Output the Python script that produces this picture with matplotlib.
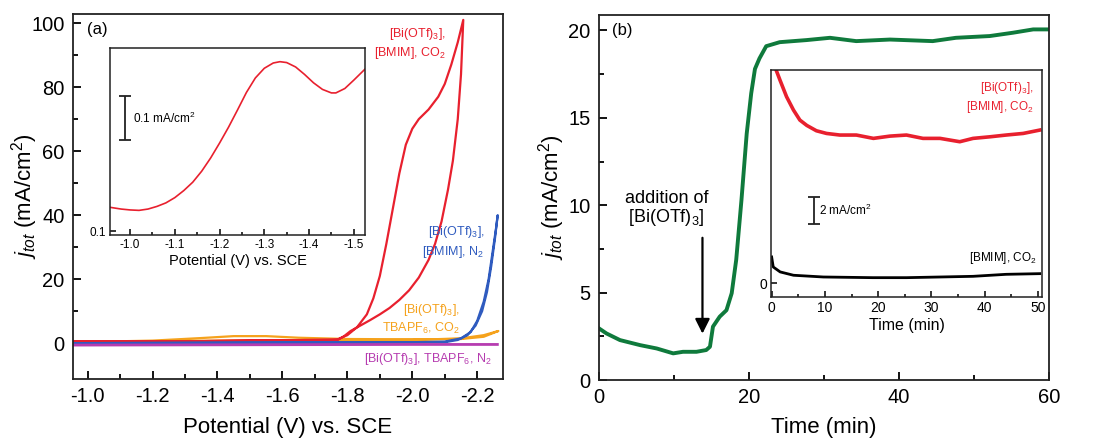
import matplotlib.pyplot as plt
import numpy as np
from matplotlib.ticker import FixedLocator

plt.rcParams['font.family'] = ['Liberation Sans', 'DejaVu Sans']
plt.rcParams['mathtext.fontset'] = 'custom'
plt.rcParams['mathtext.rm'] = 'Liberation Sans'
plt.rcParams['mathtext.it'] = 'Liberation Sans:italic'
plt.rcParams['mathtext.bf'] = 'Liberation Sans:bold'

# ---- panel (a): cyclic voltammograms ----
# red: [Bi(OTf)3], [BMIM], CO2  (forward then reverse scan)
red_v = [-0.955, -1.2, -1.5, -1.7, -1.77, -1.79, -1.81, -1.84, -1.87, -1.90, -1.93,
         -1.96, -1.99, -2.02, -2.05, -2.07, -2.09, -2.11, -2.125, -2.14, -2.15, -2.157,
         -2.14, -2.12, -2.10, -2.08, -2.05, -2.02, -2.00, -1.98, -1.96, -1.94, -1.92,
         -1.90, -1.88, -1.86, -1.83, -1.80, -1.77, -1.6, -1.3, -0.955]
red_j = [0.5, 0.5, 0.8, 0.8, 1.0, 2.2, 3.8, 5.5, 7.2, 9.0, 11.0,
         13.5, 16.5, 20.5, 26, 31, 38, 48, 57, 70, 84, 101,
         94, 87, 81, 77, 73, 70, 67, 62, 53, 42, 31,
         21, 14, 9, 5, 2.5, 1.2, 0.9, 0.6, 0.5]

# blue: [Bi(OTf)3], [BMIM], N2
blue_v = [-0.955, -1.5, -2.0, -2.1, -2.15, -2.18, -2.2, -2.22, -2.235, -2.248, -2.258, -2.263,
          -2.255, -2.243, -2.23, -2.215, -2.195, -2.17, -2.14, -2.1, -1.5, -0.955]
blue_j = [0.0, 0.3, 0.3, 0.5, 1.5, 3.5, 7, 13, 20, 29, 36, 40,
          33, 24, 16, 10, 5.5, 2.5, 1.0, 0.3, 0.0, -0.2]

# orange: [Bi(OTf)3], TBAPF6, CO2
orng_v = [-0.955, -1.2, -1.35, -1.45, -1.55, -1.65, -1.8, -2.0, -2.15, -2.22, -2.265,
          -2.22, -2.15, -2.0, -1.8, -1.5, -1.2, -0.955]
orng_j = [0.3, 0.8, 1.6, 2.2, 2.2, 1.7, 1.3, 1.2, 1.3, 2.0, 3.8,
          2.5, 1.5, 1.0, 0.9, 0.9, 0.6, 0.3]

# purple: [Bi(OTf)3], TBAPF6, N2
purp_v = [-0.955, -1.5, -2.0, -2.262]
purp_j = [-0.6, -0.5, -0.4, -0.4]

# inset (a)
insa_v = [-0.955, -0.98, -1.0, -1.02, -1.04, -1.06, -1.08, -1.10, -1.12, -1.14, -1.16,
          -1.18, -1.20, -1.22, -1.24, -1.26, -1.28, -1.30, -1.32, -1.335, -1.35, -1.37,
          -1.39, -1.41, -1.43, -1.45, -1.46, -1.48, -1.50, -1.525]
insa_j = [0.154, 0.150, 0.148, 0.147, 0.150, 0.156, 0.164, 0.176, 0.192, 0.211, 0.236,
          0.266, 0.300, 0.336, 0.375, 0.415, 0.448, 0.470, 0.482, 0.485, 0.483, 0.473,
          0.456, 0.437, 0.422, 0.414, 0.414, 0.424, 0.443, 0.468]

# ---- panel (b): chronoamperometry ----
grn_t = [0, 1.0, 2.8, 5.5, 7.7, 9.9, 11.2, 13.0, 14.3, 14.8, 15.2, 16.1, 17.0, 17.7,
         18.3, 19.0, 19.7, 20.3, 20.8, 21.4, 22.3, 24.1, 27.7, 30.8, 34.3, 38.8,
         44.5, 47.6, 52.1, 55.2, 57.9, 60]
grn_j = [2.96, 2.67, 2.29, 2.0, 1.81, 1.53, 1.62, 1.62, 1.72, 1.91, 3.06, 3.63, 4.0, 4.97,
         6.88, 10.3, 14.1, 16.4, 17.8, 18.4, 19.1, 19.33, 19.45, 19.58, 19.39, 19.48,
         19.39, 19.58, 19.68, 19.87, 20.06, 20.06]

# inset (b)
insb_red_t = [0.6, 1.56, 2.8, 4.1, 5.3, 6.6, 8.4, 10.3, 12.8, 15.9, 19.1, 22.2, 25.3,
              28.4, 31.6, 35.3, 37.8, 41, 44, 47.2, 50.3]
insb_red_j = [16.2, 15.2, 13.95, 12.95, 12.2, 11.8, 11.4, 11.2, 11.08, 11.08, 10.83,
              11.0, 11.08, 10.83, 10.83, 10.58, 10.83, 10.95, 11.08, 11.2, 11.45]
insb_blk_t = [0, 0.3, 1.6, 4.1, 9.7, 19, 25.3, 31.6, 37.8, 44, 50.3]
insb_blk_j = [1.95, 1.2, 0.83, 0.58, 0.45, 0.4, 0.4, 0.45, 0.5, 0.65, 0.7]

RED = '#e8202e'
BLUE = '#2f5bbf'
ORNG = '#f5a21c'
PURP = '#b63cb0'
GRN = '#0f7a3c'


def style(ax, size, maj, mnr, lw, pad):
    ax.tick_params(which='both', direction='in', top=False, right=False,
                   labelsize=size, width=lw, pad=pad)
    ax.tick_params(which='major', length=maj)
    ax.tick_params(which='minor', length=mnr)
    for s in ax.spines.values():
        s.set_linewidth(lw)
        s.set_color('#222222')


fig = plt.figure(figsize=(10.93, 4.42), dpi=100)
axa = fig.add_axes([0.0668, 0.1425, 0.393, 0.8255])
axb = fig.add_axes([0.548, 0.140, 0.4117, 0.8267])

# panel (a)
axa.plot(orng_v, orng_j, color=ORNG, lw=1.6)
axa.plot(red_v, red_j, color=RED, lw=1.6)
axa.plot(blue_v, blue_j, color=BLUE, lw=1.6)
axa.plot(purp_v, purp_j, color=PURP, lw=2.0)
axa.set_xlim(-0.955, -2.278)
axa.set_ylim(-11.2, 102.8)
axa.xaxis.set_major_locator(FixedLocator([-1.0, -1.2, -1.4, -1.6, -1.8, -2.0, -2.2]))
axa.xaxis.set_minor_locator(FixedLocator([-1.1, -1.3, -1.5, -1.7, -1.9, -2.1]))
axa.yaxis.set_major_locator(FixedLocator([0, 20, 40, 60, 80, 100]))
axa.yaxis.set_minor_locator(FixedLocator([10, 30, 50, 70, 90]))
axa.set_xticklabels(['-1.0', '-1.2', '-1.4', '-1.6', '-1.8', '-2.0', '-2.2'])
style(axa, 14.5, 6, 3.5, 1.3, 6)
axa.set_xlabel('Potential (V) vs. SCE', fontsize=16, labelpad=8)
axa.set_ylabel(r'$j_{tot}$ (mA/cm$^2$)', fontsize=16)
axa.yaxis.set_label_coords(-0.078, 0.5)
axa.text(-0.998, 98, '(a)', fontsize=12, ha='left', va='center')
axa.text(-2.104, 93.7, '[Bi(OTf)$_3$],\n[BMIM], CO$_2$', color=RED, fontsize=9,
         ha='right', va='center', multialignment='right', linespacing=1.3)
axa.text(-2.222, 31.6, '[Bi(OTf)$_3$],\n[BMIM], N$_2$', color=BLUE, fontsize=9,
         ha='right', va='center', multialignment='right', linespacing=1.3)
axa.text(-2.145, 7.6, '[Bi(OTf)$_3$],\nTBAPF$_6$, CO$_2$', color=ORNG, fontsize=9,
         ha='right', va='center', multialignment='right', linespacing=1.3)
axa.text(-2.245, -5.0, '[Bi(OTf)$_3$], TBAPF$_6$, N$_2$', color=PURP, fontsize=9,
         ha='right', va='center')

# inset (a)
insa = fig.add_axes([0.1006, 0.4683, 0.2333, 0.423])
insa.plot(insa_v, insa_j, color=RED, lw=1.2)
insa.set_xlim(-0.955, -1.525)
insa.set_ylim(0.091, 0.516)
insa.xaxis.set_major_locator(FixedLocator([-1.0, -1.1, -1.2, -1.3, -1.4, -1.5]))
insa.xaxis.set_minor_locator(FixedLocator([-1.05, -1.15, -1.25, -1.35, -1.45]))
insa.set_xticklabels(['-1.0', '-1.1', '-1.2', '-1.3', '-1.4', '-1.5'])
insa.yaxis.set_major_locator(FixedLocator([0.1]))
insa.set_yticklabels(['0.1'])
style(insa, 8.5, 4, 2.5, 1.1, 3)
insa.set_xlabel('Potential (V) vs. SCE', fontsize=10.5, labelpad=2)
insa.errorbar([-0.989], [0.357], yerr=[0.05], color='#222222', capsize=4, lw=1.3,
              capthick=1.3)
insa.text(-1.007, 0.357, '0.1 mA/cm$^2$', fontsize=8.5, ha='left', va='center')

# panel (b)
axb.plot(grn_t, grn_j, color=GRN, lw=2.8)
axb.set_xlim(0, 60)
axb.set_ylim(0, 20.9)
axb.xaxis.set_major_locator(FixedLocator([0, 20, 40, 60]))
axb.xaxis.set_minor_locator(FixedLocator([10, 30, 50]))
axb.yaxis.set_major_locator(FixedLocator([0, 5, 10, 15, 20]))
axb.yaxis.set_minor_locator(FixedLocator([2.5, 7.5, 12.5, 17.5]))
style(axb, 14.5, 6, 3.5, 1.3, 6)
axb.set_xlabel('Time (min)', fontsize=16, labelpad=7)
axb.set_ylabel(r'$j_{tot}$ (mA/cm$^2$)', fontsize=16)
axb.yaxis.set_label_coords(-0.07, 0.5)
axb.text(1.7, 20.0, '(b)', fontsize=12, ha='left', va='center')
axb.text(9.0, 9.8, 'addition of\n[Bi(OTf)$_3$]', fontsize=13, ha='center', va='center',
         linespacing=1.0)
axb.annotate('', xy=(13.8, 2.5), xytext=(13.8, 8.3),
             arrowprops=dict(arrowstyle='-|>', color='k', lw=1.6, mutation_scale=22))

# inset (b)
insb = fig.add_axes([0.7054, 0.328, 0.248, 0.5136])
insb.plot(insb_red_t, insb_red_j, color=RED, lw=2.6)
insb.plot(insb_blk_t, insb_blk_j, color='k', lw=2.0)
insb.set_xlim(-0.12, 50.75)
insb.set_ylim(-1.05, 15.95)
insb.xaxis.set_major_locator(FixedLocator([0, 10, 20, 30, 40, 50]))
insb.xaxis.set_minor_locator(FixedLocator([5, 15, 25, 35, 45]))
insb.yaxis.set_major_locator(FixedLocator([0]))
style(insb, 10, 4, 2.5, 1.1, 3)
insb.set_xlabel('Time (min)', fontsize=11.5, labelpad=2)
insb.text(49.1, 13.9, '[Bi(OTf)$_3$],\n[BMIM], CO$_2$', color=RED, fontsize=8.5,
          ha='right', va='center', multialignment='right', linespacing=1.3)
insb.text(49.7, 1.9, '[BMIM], CO$_2$', color='k', fontsize=8.5, ha='right', va='center')
insb.errorbar([7.94], [5.45], yerr=[1.0], color='#222222', capsize=4, lw=1.3,
              capthick=1.3)
insb.text(8.9, 5.45, '2 mA/cm$^2$', fontsize=8.5, ha='left', va='center')

plt.savefig('out.png', dpi=100)
